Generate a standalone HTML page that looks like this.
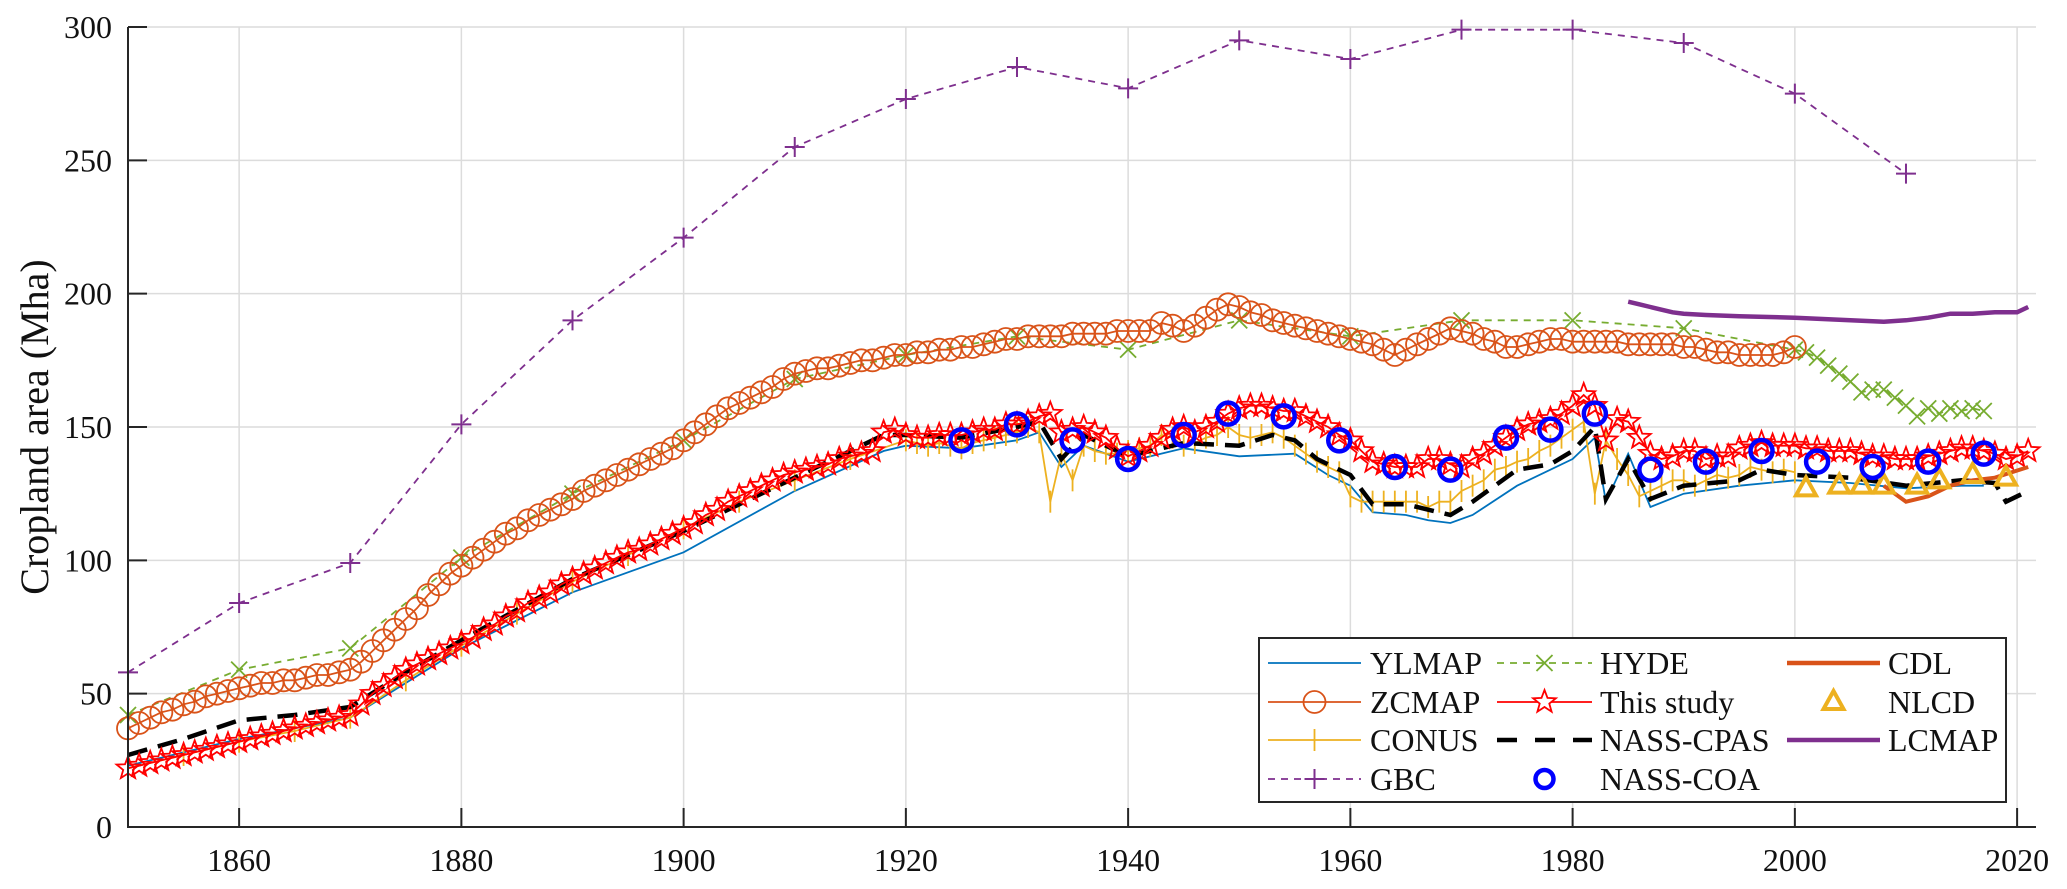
<!DOCTYPE html>
<html><head><meta charset="utf-8"><style>
html,body{margin:0;padding:0;background:#fff;}
svg{display:block;font-family:"Liberation Serif",serif;}
</style></head><body>
<svg id="chart" width="2067" height="889" viewBox="0 0 2067 889" xmlns="http://www.w3.org/2000/svg">
<g id="grid"></g>
<g id="series"></g>
<g id="axes"></g>
<text transform="translate(48,427) rotate(-90)" text-anchor="middle" font-size="40" fill="#111">Cropland area (Mha)</text>
<g id="legend"></g>
</svg>
<script>
const gbcYears=[1850,1860,1870,1880,1890,1900,1910,1920,1930,1940,1950,1960,1970,1980,1990,2000,2010];
const gbcVals=[58,84,99,151,190,221,255,273,285,277,295,288,299,299,294,275,245];
const hydeYears=[1850,1860,1870,1880,1890,1900,1910,1920,1930,1940,1950,1960,1970,1980,1990,2000,2001,2002,2003,2004,2005,2006,2007,2008,2009,2010,2011,2012,2013,2014,2015,2016,2017];
const hydeVals=[42,59,67,101,125,145,168,177,184,179,190,184,190,190,187,179,178,176,173,170,167,163,164,164,161,158,154,157,155,157,156,157,156];
const zcStart=1850;
const zcVals=[37,39,41,43,44,46,47,49,50,51,52,53,54,54,55,55,56,57,57,58,59,
62,66,70,74,78,82,87,91,95,98,101,104,107,110,112,115,117,119,121,123,
126,128,130,132,134,136,138,140,142,145,148,151,154,157,159,161,163,165,168,170,
171,172,172,173,174,175,175,176,177,177,178,178,179,179,180,180,181,182,183,183,
184,184,184,184,185,185,185,185,186,186,186,186,189,188,186,188,191,194,196,195,
193,192,190,189,188,187,186,185,184,183,182,181,179,177,179,181,183,185,187,186,
185,183,182,180,180,181,182,183,183,182,182,182,182,182,181,181,181,181,181,180,
180,179,178,178,177,177,177,177,178,180];
const studyStart=1850;
const studyVals=[22,23,24,25,26,27,28,29,30,31,32,33,34,35,36,37,38,39,40,41,42,
46,50,53,56,59,61,63,65,67,69,
71,74,76,79,81,84,86,88,91,93,95,97,99,101,103,104,106,108,110,112,
114,117,119,122,124,126,128,130,132,133,134,135,136,138,139,140,141,148,149,147,
146,146,147,147,147,148,149,149,151,151,152,154,155,148,149,150,148,146,142,139,
141,143,146,149,150,148,150,152,155,157,158,158,157,156,156,154,152,150,147,145,
141,137,136,135,135,135,138,138,136,135,138,140,143,146,149,151,152,153,155,158,
162,158,145,153,152,146,140,138,139,141,141,138,139,139,142,143,144,143,143,143,
142,142,141,141,141,140,139,139,138,138,138,139,140,141,142,142,141,140,138,139,141];
const conusYears=[1850,1855,1860,1865,1870,1875,1880,1885,1890,1895,1900,1905,1910,1915,
1920,1921,1922,1923,1924,1925,1926,1927,1928,1929,1930,1931,1932,1933,1934,1935,1936,1937,1938,1939,1940,1941,1942,1943,1944,1945,1946,1947,1948,1949,1950,1951,1952,1953,1954,1955,1956,1957,1958,1959,1960,1961,1962,1963,1964,1965,1966,1967,1968,1969,1970,1971,1972,1973,1974,1975,1976,1977,1978,1979,1980,1981,1982,1983,1984,1985,1986,1987,1988,1989,1990,1991,1992,1993,1994,1995,1996,1997,1998,1999,2000];
const conusVals=[22,27,32,36,41,55,68,80,92,102,112,122,130,138,
145,144,143,144,143,142,144,145,146,147,148,150,148,122,140,130,143,141,140,140,
141,142,143,147,146,143,144,146,147,150,147,146,147,148,146,143,140,137,135,133,
124,122,122,122,122,122,122,120,122,122,126,128,130,134,135,137,138,141,143,146,
149,152,125,145,138,132,124,126,128,130,130,128,130,132,131,132,135,134,133,134,133];
const ylYears=[1850,1860,1870,1880,1890,1900,1910,1918,1920,1925,1930,1932,1934,1936,1940,1945,1950,1955,1958,1960,1962,1965,1967,1969,1971,1975,1980,1982,1983,1985,1987,1990,1995,2000,2005,2010,2015,2017];
const ylVals=[23,33,41,67,88,103,126,141,143,142,145,148,135,143,137,142,139,140,132,128,118,117,115,114,117,128,138,146,122,140,120,125,128,130,129,127,128,128];
const cpasYears=[1850,1855,1860,1865,1870,1875,1880,1890,1900,1910,1918,1920,1925,1930,1932,1934,1936,1940,1945,1950,1953,1955,1957,1960,1962,1965,1967,1969,1971,1975,1978,1980,1982,1983,1985,1987,1990,1995,1997,2000,2005,2010,2015,2018,2019,2021];
const cpasVals=[27,33,40,42,45,58,70,93,111,131,147,147,146,150,152,138,147,139,144,143,147,145,138,132,121,121,119,117,122,134,136,141,150,123,138,123,128,130,134,132,131,128,130,129,122,126];
const coaYears=[1925,1930,1935,1940,1945,1949,1954,1959,1964,1969,1974,1978,1982,1987,1992,1997,2002,2007,2012,2017];
const coaVals=[145,151,145,138,147,155,154,145,135,134,146,149,155,134,137,141,137,135,137,140];
const cdlYears=[2008,2010,2012,2014,2016,2018,2021];
const cdlVals=[128,122,124,128,130,131,135];
const nlcdYears=[2001,2004,2006,2008,2011,2013,2016,2019];
const nlcdVals=[127,128,128,128,128,130,132,131];
const lcYears=[1985,1986,1987,1988,1989,1990,1992,1995,2000,2005,2008,2010,2012,2014,2016,2018,2020,2021];
const lcVals=[197,196,195,194,193,192.5,192,191.5,191,190,189.5,190,191,192.5,192.5,193,193,195];
const xTicks=[1860,1880,1900,1920,1940,1960,1980,2000,2020];
const yTicks=[0,50,100,150,200,250,300];

const NS='http://www.w3.org/2000/svg';
const L=128,R=2036,T=27,B=827,X0=1850,X1=2021.7,YMAX=300;
function sx(v){return L+(v-X0)/(X1-X0)*(R-L);}
function sy(v){return B-v/YMAX*(B-T);}
function mk(tag,attrs,parent){const e=document.createElementNS(NS,tag);for(const k in attrs)e.setAttribute(k,attrs[k]);parent.appendChild(e);return e;}
const grid=document.getElementById('grid'),ser=document.getElementById('series'),axes=document.getElementById('axes'),leg=document.getElementById('legend');

xTicks.forEach(t=>{const g=mk('line',{x1:sx(t),x2:sx(t),y1:T,y2:B,stroke:'#dcdcdc','stroke-width':1.5},grid);

});
yTicks.forEach(t=>{const g=mk('line',{x1:L,x2:R,y1:sy(t),y2:sy(t),stroke:'#dcdcdc','stroke-width':1.5},grid);

});

function pts(xs,ys){return xs.map((x,i)=>sx(x).toFixed(1)+','+sy(ys[i]).toFixed(1)).join(' ');}
function line(xs,ys,attrs,name){const p=mk('polyline',Object.assign({points:pts(xs,ys),fill:'none'},attrs),ser);

return p;}
function star(cx,cy,r,parent,col){let d='';for(let i=0;i<10;i++){const rr=i%2?r*0.42:r;const a=-Math.PI/2+i*Math.PI/5;d+=(i?'L':'M')+(cx+rr*Math.cos(a)).toFixed(1)+','+(cy+rr*Math.sin(a)).toFixed(1);}
return mk('path',{d:d+'Z',fill:'none',stroke:col,'stroke-width':1.8},parent);}
function yrs(start,n){const a=[];for(let i=0;i<n;i++)a.push(start+i);return a;}

// GBC
line(gbcYears,gbcVals,{stroke:'#7E2F8E','stroke-width':1.8,'stroke-dasharray':'7,6'},'gbc-line');
gbcYears.forEach((y,i)=>{const g=mk('path',{d:`M${sx(y)-10},${sy(gbcVals[i])}h20M${sx(y)},${sy(gbcVals[i])-10}v20`,stroke:'#7E2F8E','stroke-width':2},ser);

});
// HYDE
line(hydeYears,hydeVals,{stroke:'#77AC30','stroke-width':1.8,'stroke-dasharray':'7,6'},'hyde-line');
hydeYears.forEach((y,i)=>{const cx=sx(y),cy=sy(hydeVals[i]);const g=mk('path',{d:`M${cx-8},${cy-8}L${cx+8},${cy+8}M${cx-8},${cy+8}L${cx+8},${cy-8}`,stroke:'#77AC30','stroke-width':1.8},ser);

});
// ZCMAP
const zcYears=yrs(zcStart,zcVals.length);
line(zcYears,zcVals,{stroke:'#D95319','stroke-width':1.8},'zcmap-line');
zcYears.forEach((y,i)=>{const c=mk('circle',{cx:sx(y),cy:sy(zcVals[i]),r:11,fill:'none',stroke:'#D95319','stroke-width':1.8},ser);

});
// LCMAP
line(lcYears,lcVals,{stroke:'#7E2F8E','stroke-width':4.5},'lcmap-line');
// YLMAP
line(ylYears,ylVals,{stroke:'#0072BD','stroke-width':1.8},'ylmap-line');
// CONUS
line(conusYears,conusVals,{stroke:'#EDB120','stroke-width':1.8},'conus-line');
conusYears.forEach((y,i)=>{const g=mk('path',{d:`M${sx(y)},${sy(conusVals[i])-11}v22`,stroke:'#EDB120','stroke-width':1.8},ser);

});
// NASS-CPAS
line(cpasYears,cpasVals,{stroke:'#000','stroke-width':4.5,'stroke-dasharray':'20,11'},'nass-cpas-line');
// This study
const stYears=yrs(studyStart,studyVals.length);
line(stYears,studyVals,{stroke:'#FF0000','stroke-width':1.8},'this-study-line');
stYears.forEach((y,i)=>{const s=star(sx(y),sy(studyVals[i]),12,ser,'#FF0000');

});
// CDL
line(cdlYears,cdlVals,{stroke:'#D95319','stroke-width':4},'cdl-line');
// NLCD
nlcdYears.forEach((y,i)=>{const cx=sx(y),cy=sy(nlcdVals[i]);const t=mk('path',{d:`M${cx},${cy-11}L${cx+10},${cy+7}L${cx-10},${cy+7}Z`,fill:'none',stroke:'#EDB120','stroke-width':4},ser);

});
// NASS-COA
coaYears.forEach((y,i)=>{const c=mk('circle',{cx:sx(y),cy:sy(coaVals[i]),r:11,fill:'none',stroke:'#0000FF','stroke-width':4.5},ser);

});

// axes
const ax=mk('path',{d:`M${L},${T}V${B}H${R}`,fill:'none',stroke:'#262626','stroke-width':2},axes);


xTicks.forEach(t=>{mk('line',{x1:sx(t),x2:sx(t),y1:B,y2:B-19,stroke:'#262626','stroke-width':2},axes);
const tx=mk('text',{x:sx(t),y:B+44,'text-anchor':'middle','font-size':32,fill:'#111'},axes);tx.textContent=t;

});
yTicks.forEach(t=>{mk('line',{x1:L,x2:L+19,y1:sy(t),y2:sy(t),stroke:'#262626','stroke-width':2},axes);
const tx=mk('text',{x:L-16,y:sy(t)+11,'text-anchor':'end','font-size':32,fill:'#111'},axes);tx.textContent=t;

});

// legend
const lb=mk('rect',{x:1259,y:638,width:747,height:164,fill:'#fff',stroke:'#262626','stroke-width':2},leg);


const rows=[663,702,740,779];
const cols=[[1268,1361,1370],[1497,1592,1600],[1787,1880,1888]];
const entries=[
['YLMAP',0,0,'yl'],['ZCMAP',0,1,'zc'],['CONUS',0,2,'conus'],['GBC',0,3,'gbc'],
['HYDE',1,0,'hyde'],['This study',1,1,'study'],['NASS-CPAS',1,2,'cpas'],['NASS-COA',1,3,'coa'],
['CDL',2,0,'cdl'],['NLCD',2,1,'nlcd'],['LCMAP',2,2,'lcmap']];
entries.forEach(([lab,c,r,k])=>{const [x1,x2,tx]=cols[c];const y=rows[r];const m=(x1+x2)/2;
const g=mk('g',{},leg);


const L2=(a)=>mk('line',Object.assign({x1:x1,x2:x2,y1:y,y2:y},a),g);
if(k==='yl')L2({stroke:'#0072BD','stroke-width':1.8});
if(k==='zc'){L2({stroke:'#D95319','stroke-width':1.8});mk('circle',{cx:m,cy:y,r:11,fill:'none',stroke:'#D95319','stroke-width':1.8},g);}
if(k==='conus'){L2({stroke:'#EDB120','stroke-width':1.8});mk('path',{d:`M${m},${y-11}v22`,stroke:'#EDB120','stroke-width':1.8},g);}
if(k==='gbc'){L2({stroke:'#7E2F8E','stroke-width':1.8,'stroke-dasharray':'7,6'});mk('path',{d:`M${m-10},${y}h20M${m},${y-10}v20`,stroke:'#7E2F8E','stroke-width':2},g);}
if(k==='hyde'){L2({stroke:'#77AC30','stroke-width':1.8,'stroke-dasharray':'7,6'});mk('path',{d:`M${m-8},${y-8}L${m+8},${y+8}M${m-8},${y+8}L${m+8},${y-8}`,stroke:'#77AC30','stroke-width':1.8},g);}
if(k==='study'){L2({stroke:'#FF0000','stroke-width':1.8});const s=star(m,y,12,g,'#FF0000');s.setAttribute('fill','#fff');}
if(k==='cpas')L2({stroke:'#000','stroke-width':4.5,'stroke-dasharray':'20,18'});
if(k==='coa')mk('circle',{cx:m,cy:y,r:9,fill:'none',stroke:'#0000FF','stroke-width':4.5},g);
if(k==='cdl')L2({stroke:'#D95319','stroke-width':4.5});
if(k==='nlcd')mk('path',{d:`M${m},${y-11}L${m+10},${y+7}L${m-10},${y+7}Z`,fill:'none',stroke:'#EDB120','stroke-width':4},g);
if(k==='lcmap')L2({stroke:'#7E2F8E','stroke-width':4.5});
const t=mk('text',{x:tx,y:y+11,'font-size':32,fill:'#111'},g);t.textContent=lab;
});
</script>
</body></html>
